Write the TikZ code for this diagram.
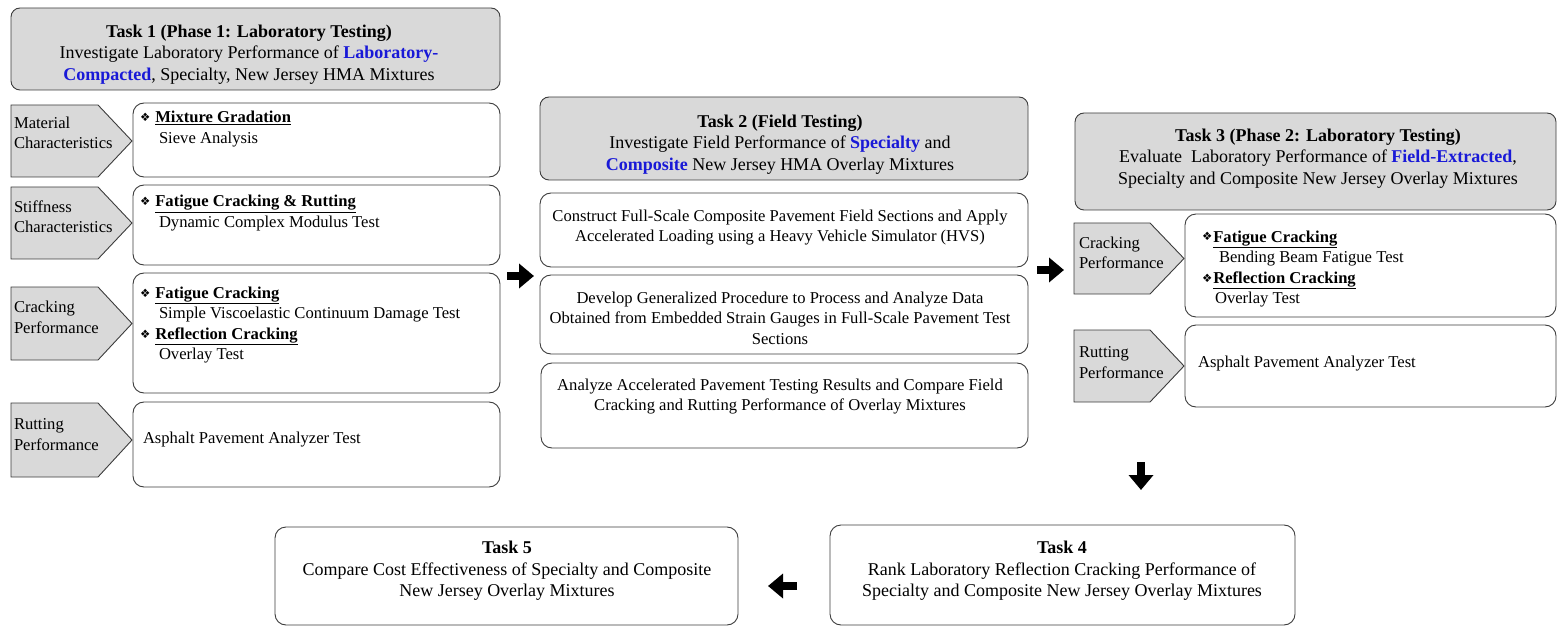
\documentclass[tikz,border=0pt]{standalone}
\usepackage{fontspec}
\setmainfont{Liberation Serif}
\newfontfamily\dv{DejaVu Sans}
\usetikzlibrary{arrows.meta}
\definecolor{tblue}{RGB}{25,25,215}
\definecolor{hgray}{RGB}{217,217,217}
\definecolor{edgec}{RGB}{60,60,60}
\newcommand\bodyf{\fontsize{16.6}{20.5}\selectfont}
\newcommand\hdrf{\fontsize{18}{21.5}\selectfont}
\newcommand\dia{{\dv\fontsize{11.5}{11.5}\selectfont\raisebox{1pt}{❖}}}
\newcommand\ulb[1]{\underline{\textbf{#1}}}
\newcommand\bl[1]{\textbf{\color{tblue}#1}}
% style, x1, y1, x2, y2, name
\newcommand\bx[6]{\node[#1, minimum width={(#4-(#2))*1pt}, minimum height={(#5-(#3))*1pt}] (#6) at ({(#2+#4)/2},{(#3+#5)/2}) {};}
% name, x1, y1, xbody, xtip, y2
\newcommand\pent[6]{%
  \draw[pentst] (#2,#3) -- (#4,#3) -- (#5,{(#3+#6)/2}) -- (#4,#6) -- (#2,#6) -- cycle;
  \coordinate (#1) at (#2,{(#3+#6)/2});}
\tikzset{
  hdr/.style={draw=edgec, fill=hgray, rounded corners=9pt, line width=0.9pt, inner sep=0pt, outer sep=0pt},
  wbox/.style={draw=edgec, fill=white, rounded corners=11pt, line width=0.9pt, inner sep=0pt, outer sep=0pt},
  pentst/.style={draw=edgec, fill=hgray, line width=0.9pt, line join=miter},
  txt/.style={inner sep=0pt, outer sep=0pt, font=\bodyf, align=left, anchor=base west},
  ctxt/.style={inner sep=0pt, outer sep=0pt, font=\bodyf, align=center, anchor=base},
  htxt/.style={inner sep=0pt, outer sep=0pt, font=\hdrf, align=center, anchor=base},
  blk/.style={line width=8pt, -{Triangle[length=15pt, width=24pt]}, black},
}
\begin{document}
\begin{tikzpicture}[x=1pt, y=-1pt]
\useasboundingbox (0,0) rectangle (1557,628);
% (text nodes are placed at the baseline of their last line)

% ---------------- Task 1 ----------------
\bx{hdr}{11}{8}{500}{90}{t1}
\node[htxt] (t1t) at (249,80.5) {\textbf{Task 1 (Phase 1: Laboratory Testing)}\\Investigate Laboratory Performance of \bl{Laboratory-}\\\bl{Compacted}, Specialty, New Jersey HMA Mixtures};

\pent{p1}{11}{105}{98}{132}{177}
\pent{p2}{11}{187}{98}{132}{259}
\pent{p3}{11}{287}{98}{132}{360}
\pent{p4}{11}{403}{98}{132}{477}
\node[txt] (l1) at (14,149) {Material\\Characteristics};
\node[txt] (l2) at (14,233) {Stiffness\\Characteristics};
\node[txt] (l3) at (14,333) {Cracking\\Performance};
\node[txt] (l4) at (14,450) {Rutting\\Performance};

\bx{wbox}{133}{103}{500}{177}{b1}
\bx{wbox}{133}{185}{500}{265}{b2}
\bx{wbox}{133}{273}{500}{393}{b3}
\bx{wbox}{133}{402}{500}{487}{b4}
\node[txt] (b1t) at (140,143.5) {\dia\hspace{5pt}\ulb{Mixture Gradation}\\\hspace*{19pt}Sieve Analysis};
\node[txt] (b2t) at (140,227.5) {\dia\hspace{5pt}\ulb{Fatigue Cracking \& Rutting}\\\hspace*{19pt}Dynamic Complex Modulus Test};
\node[txt] (b3t) at (140,359.5) {\dia\hspace{5pt}\ulb{Fatigue Cracking}\\\hspace*{19pt}Simple Viscoelastic Continuum Damage Test\\\dia\hspace{5pt}\ulb{Reflection Cracking}\\\hspace*{19pt}Overlay Test};
\node[txt] (b4t) at (143,443) {Asphalt Pavement Analyzer Test};

% ---------------- Task 2 ----------------
\bx{hdr}{540}{97}{1028}{180}{t2}
\node[htxt] (t2t) at (780,170.5) {\textbf{Task 2 (Field Testing)}\\Investigate Field Performance of \bl{Specialty} and\\\bl{Composite} New Jersey HMA Overlay Mixtures};
\bx{wbox}{540}{193}{1028}{267}{c1}
\bx{wbox}{540}{275}{1028}{354}{c2}
\bx{wbox}{541}{363}{1028}{448}{c3}
\node[ctxt] (c1t) at (780,241.5) {Construct Full-Scale Composite Pavement Field Sections and Apply\\Accelerated Loading using a Heavy Vehicle Simulator (HVS)};
\node[ctxt] (c2t) at (780,344) {Develop Generalized Procedure to Process and Analyze Data\\Obtained from Embedded Strain Gauges in Full-Scale Pavement Test\\Sections};
\node[ctxt] (c3t) at (780,410.5) {Analyze Accelerated Pavement Testing Results and Compare Field\\Cracking and Rutting Performance of Overlay Mixtures};

% ---------------- Task 3 ----------------
\bx{hdr}{1075}{113}{1556}{210}{t3}
\node[htxt] (t3t) at (1318,184.5) {\textbf{Task 3 (Phase 2: Laboratory Testing)}\\Evaluate\ \ Laboratory Performance of \bl{Field-Extracted},\\Specialty and Composite New Jersey Overlay Mixtures};
\pent{q1}{1074}{223}{1150}{1184}{294}
\pent{q2}{1074}{330}{1150}{1184}{402}
\node[txt] (m1) at (1079,269) {Cracking\\Performance};
\node[txt] (m2) at (1079,378) {Rutting\\Performance};
\bx{wbox}{1185}{214}{1556}{317}{d1}
\bx{wbox}{1185}{325}{1556}{407}{d2}
\node[txt] (d1t) at (1202,303.5) {\dia\hspace{1pt}\ulb{Fatigue Cracking}\\\hspace*{17pt}Bending Beam Fatigue Test\\\dia\hspace{1pt}\ulb{Reflection Cracking}\\\hspace*{13pt}Overlay Test};
\node[txt] (d2t) at (1198,367) {Asphalt Pavement Analyzer Test};

% ---------------- Tasks 4 and 5 ----------------
\bx{wbox}{830}{525}{1295}{625}{t4}
\bx{wbox}{275}{527}{738}{625}{t5}
\node[htxt] (t4t) at (1062,596.5) {\textbf{Task 4}\\Rank Laboratory Reflection Cracking Performance of\\Specialty and Composite New Jersey Overlay Mixtures};
\node[htxt] (t5t) at (507,596.5) {\textbf{Task 5}\\Compare Cost Effectiveness of Specialty and Composite\\New Jersey Overlay Mixtures};

% ---------------- block arrows ----------------
\coordinate (a1s) at (507,276); \coordinate (a1e) at (534,276);
\coordinate (a2s) at (1037,270); \coordinate (a2e) at (1064,270);
\coordinate (a3s) at (1141,462); \coordinate (a3e) at (1141,490);
\coordinate (a4s) at (797,586); \coordinate (a4e) at (768,586);
\draw[blk] (a1s) -- (a1e);
\draw[blk] (a2s) -- (a2e);
\draw[blk] (a3s) -- (a3e);
\draw[blk] (a4s) -- (a4e);
\end{tikzpicture}
\end{document}
